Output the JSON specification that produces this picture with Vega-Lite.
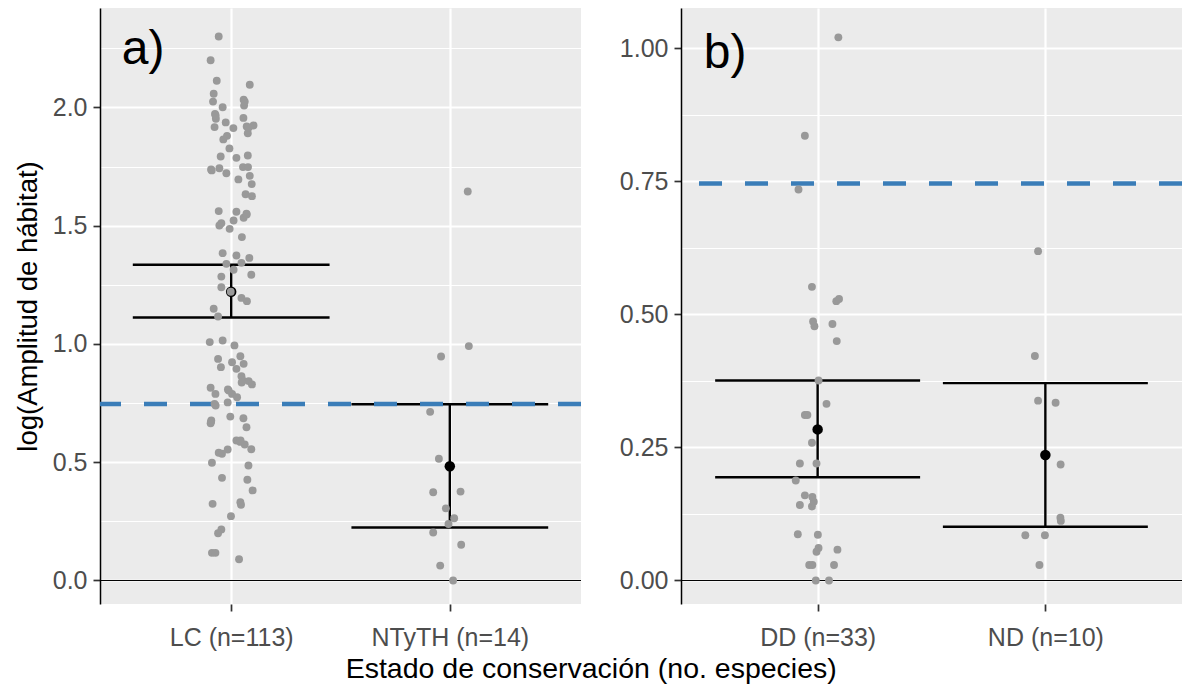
{
  "$schema": "https://vega.github.io/schema/vega-lite/v6.json",
  "background": "white",
  "padding": {"left": 14, "top": 8, "right": 0, "bottom": 0},
  "spacing": 35,
  "config": {
    "font": "Liberation Sans",
    "view": {"fill": "#EBEBEB", "stroke": null},
    "axis": {
      "labelFont": "Liberation Sans", "titleFont": "Liberation Sans",
      "labelFontSize": 25, "labelColor": "#4D4D4D",
      "titleFontSize": 27.5, "titleFontWeight": "normal", "titleColor": "black",
      "tickColor": "#333333", "tickSize": 7, "tickWidth": 1.7,
      "gridColor": "white", "labelOverlap": false, "labelFlush": false
    },
    "title": {"font": "Liberation Sans", "fontSize": 28.5, "fontWeight": "normal", "color": "black"}
  },
  "title": {"text": "Estado de conservación (no. especies)", "orient": "bottom", "anchor": "middle", "frame": "bounds", "offset": 5, "dx": -8},
  "datasets": {
    "ptsA": [
      {"grupo":"LC","pos":0.943,"valor":2.300},{"grupo":"LC","pos":0.906,"valor":2.200},{"grupo":"LC","pos":0.934,"valor":2.113},{"grupo":"LC","pos":1.085,"valor":2.096},
      {"grupo":"LC","pos":0.920,"valor":2.058},{"grupo":"LC","pos":0.917,"valor":2.025},{"grupo":"LC","pos":0.961,"valor":2.001},{"grupo":"LC","pos":1.057,"valor":2.033},
      {"grupo":"LC","pos":1.059,"valor":2.008},{"grupo":"LC","pos":0.926,"valor":1.973},{"grupo":"LC","pos":0.930,"valor":1.952},{"grupo":"LC","pos":1.056,"valor":1.956},
      {"grupo":"LC","pos":0.975,"valor":1.937},{"grupo":"LC","pos":0.924,"valor":1.917},{"grupo":"LC","pos":1.010,"valor":1.913},{"grupo":"LC","pos":1.071,"valor":1.920},
      {"grupo":"LC","pos":1.102,"valor":1.924},{"grupo":"LC","pos":1.076,"valor":1.891},{"grupo":"LC","pos":0.981,"valor":1.880},{"grupo":"LC","pos":0.964,"valor":1.865},
      {"grupo":"LC","pos":0.992,"valor":1.827},{"grupo":"LC","pos":0.952,"valor":1.793},{"grupo":"LC","pos":1.024,"valor":1.787},{"grupo":"LC","pos":1.076,"valor":1.797},
      {"grupo":"LC","pos":0.908,"valor":1.738},{"grupo":"LC","pos":0.946,"valor":1.743},{"grupo":"LC","pos":0.978,"valor":1.722},{"grupo":"LC","pos":1.054,"valor":1.748},
      {"grupo":"LC","pos":1.077,"valor":1.748},{"grupo":"LC","pos":1.085,"valor":1.711},{"grupo":"LC","pos":1.033,"valor":1.696},{"grupo":"LC","pos":1.094,"valor":1.676},
      {"grupo":"LC","pos":1.066,"valor":1.633},{"grupo":"LC","pos":1.095,"valor":1.625},{"grupo":"LC","pos":0.943,"valor":1.562},{"grupo":"LC","pos":1.024,"valor":1.559},
      {"grupo":"LC","pos":1.070,"valor":1.551},{"grupo":"LC","pos":1.057,"valor":1.534},{"grupo":"LC","pos":0.955,"valor":1.511},{"grupo":"LC","pos":1.011,"valor":1.522},
      {"grupo":"LC","pos":0.946,"valor":1.501},{"grupo":"LC","pos":0.993,"valor":1.487},{"grupo":"LC","pos":1.049,"valor":1.452},{"grupo":"LC","pos":0.961,"valor":1.384},
      {"grupo":"LC","pos":1.024,"valor":1.374},{"grupo":"LC","pos":1.083,"valor":1.364},{"grupo":"LC","pos":0.978,"valor":1.339},{"grupo":"LC","pos":1.047,"valor":1.343},
      {"grupo":"LC","pos":1.011,"valor":1.314},{"grupo":"LC","pos":1.092,"valor":1.293},{"grupo":"LC","pos":0.955,"valor":1.285},{"grupo":"LC","pos":0.955,"valor":1.240},
      {"grupo":"LC","pos":0.998,"valor":1.221},{"grupo":"LC","pos":1.047,"valor":1.195},{"grupo":"LC","pos":1.072,"valor":1.181},{"grupo":"LC","pos":0.920,"valor":1.149},
      {"grupo":"LC","pos":0.940,"valor":1.116},{"grupo":"LC","pos":0.902,"valor":1.008},{"grupo":"LC","pos":0.961,"valor":1.015},{"grupo":"LC","pos":1.015,"valor":0.994},
      {"grupo":"LC","pos":1.042,"valor":0.948},{"grupo":"LC","pos":0.940,"valor":0.937},{"grupo":"LC","pos":1.004,"valor":0.923},{"grupo":"LC","pos":1.057,"valor":0.916},
      {"grupo":"LC","pos":0.953,"valor":0.902},{"grupo":"LC","pos":1.024,"valor":0.895},{"grupo":"LC","pos":1.047,"valor":0.864},{"grupo":"LC","pos":1.053,"valor":0.846},
      {"grupo":"LC","pos":1.080,"valor":0.843},{"grupo":"LC","pos":1.095,"valor":0.829},{"grupo":"LC","pos":0.906,"valor":0.815},{"grupo":"LC","pos":0.985,"valor":0.808},
      {"grupo":"LC","pos":0.928,"valor":0.789},{"grupo":"LC","pos":1.004,"valor":0.789},{"grupo":"LC","pos":1.027,"valor":0.775},{"grupo":"LC","pos":0.924,"valor":0.747},
      {"grupo":"LC","pos":0.984,"valor":0.753},{"grupo":"LC","pos":0.909,"valor":0.677},{"grupo":"LC","pos":0.906,"valor":0.665},{"grupo":"LC","pos":0.996,"valor":0.693},
      {"grupo":"LC","pos":1.056,"valor":0.686},{"grupo":"LC","pos":1.070,"valor":0.648},{"grupo":"LC","pos":1.024,"valor":0.592},{"grupo":"LC","pos":1.042,"valor":0.586},
      {"grupo":"LC","pos":1.062,"valor":0.575},{"grupo":"LC","pos":1.092,"valor":0.555},{"grupo":"LC","pos":0.984,"valor":0.554},{"grupo":"LC","pos":0.943,"valor":0.540},
      {"grupo":"LC","pos":0.958,"valor":0.536},{"grupo":"LC","pos":0.912,"valor":0.498},{"grupo":"LC","pos":1.079,"valor":0.486},{"grupo":"LC","pos":0.958,"valor":0.434},
      {"grupo":"LC","pos":1.074,"valor":0.426},{"grupo":"LC","pos":1.098,"valor":0.381},{"grupo":"LC","pos":0.915,"valor":0.324},{"grupo":"LC","pos":1.042,"valor":0.331},
      {"grupo":"LC","pos":1.045,"valor":0.320},{"grupo":"LC","pos":0.999,"valor":0.272},{"grupo":"LC","pos":0.955,"valor":0.216},{"grupo":"LC","pos":0.940,"valor":0.200},
      {"grupo":"LC","pos":0.912,"valor":0.117},{"grupo":"LC","pos":0.928,"valor":0.117},{"grupo":"LC","pos":1.036,"valor":0.090},{"grupo":"LC","pos":1.071,"valor":1.548},
      {"grupo":"LC","pos":0.929,"valor":1.966},{"grupo":"LC","pos":1.062,"valor":2.025},{"grupo":"LC","pos":1.080,"valor":1.915},{"grupo":"LC","pos":0.911,"valor":1.734},
      {"grupo":"LC","pos":1.048,"valor":0.837},{"grupo":"LC","pos":0.929,"valor":0.740},{"grupo":"LC","pos":1.043,"valor":0.592},{"grupo":"LC","pos":0.908,"valor":0.672},
      {"grupo":"LC","pos":0.989,"valor":0.803},
      {"grupo":"NTyTH","pos":2.082,"valor":1.645},{"grupo":"NTyTH","pos":2.087,"valor":0.991},{"grupo":"NTyTH","pos":1.960,"valor":0.947},{"grupo":"NTyTH","pos":1.910,"valor":0.713},
      {"grupo":"NTyTH","pos":1.950,"valor":0.515},{"grupo":"NTyTH","pos":1.924,"valor":0.373},{"grupo":"NTyTH","pos":2.049,"valor":0.376},{"grupo":"NTyTH","pos":1.982,"valor":0.305},
      {"grupo":"NTyTH","pos":2.020,"valor":0.263},{"grupo":"NTyTH","pos":1.994,"valor":0.239},{"grupo":"NTyTH","pos":1.924,"valor":0.203},{"grupo":"NTyTH","pos":2.052,"valor":0.151},
      {"grupo":"NTyTH","pos":1.956,"valor":0.063},{"grupo":"NTyTH","pos":2.015,"valor":0.0}
    ],
    "ptsB": [
      {"grupo":"DD","pos":1.091,"valor":1.021},{"grupo":"DD","pos":0.944,"valor":0.836},{"grupo":"DD","pos":0.916,"valor":0.735},{"grupo":"DD","pos":0.975,"valor":0.552},
      {"grupo":"DD","pos":1.082,"valor":0.525},{"grupo":"DD","pos":1.094,"valor":0.529},{"grupo":"DD","pos":0.980,"valor":0.487},{"grupo":"DD","pos":0.986,"valor":0.478},
      {"grupo":"DD","pos":1.065,"valor":0.482},{"grupo":"DD","pos":1.084,"valor":0.450},{"grupo":"DD","pos":1.004,"valor":0.376},{"grupo":"DD","pos":1.039,"valor":0.332},
      {"grupo":"DD","pos":0.944,"valor":0.311},{"grupo":"DD","pos":0.955,"valor":0.311},{"grupo":"DD","pos":0.975,"valor":0.259},{"grupo":"DD","pos":0.922,"valor":0.220},
      {"grupo":"DD","pos":0.995,"valor":0.220},{"grupo":"DD","pos":0.904,"valor":0.188},{"grupo":"DD","pos":0.944,"valor":0.160},{"grupo":"DD","pos":0.922,"valor":0.142},
      {"grupo":"DD","pos":0.975,"valor":0.139},{"grupo":"DD","pos":0.983,"valor":0.148},{"grupo":"DD","pos":0.913,"valor":0.087},{"grupo":"DD","pos":1.001,"valor":0.086},
      {"grupo":"DD","pos":1.004,"valor":0.061},{"grupo":"DD","pos":1.087,"valor":0.058},{"grupo":"DD","pos":0.995,"valor":0.054},{"grupo":"DD","pos":0.963,"valor":0.029},
      {"grupo":"DD","pos":0.977,"valor":0.029},{"grupo":"DD","pos":1.072,"valor":0.029},{"grupo":"DD","pos":0.992,"valor":0.0},{"grupo":"DD","pos":1.050,"valor":0.0},
      {"grupo":"DD","pos":0.977,"valor":0.157},
      {"grupo":"ND","pos":1.968,"valor":0.619},{"grupo":"ND","pos":1.954,"valor":0.422},{"grupo":"ND","pos":1.968,"valor":0.338},{"grupo":"ND","pos":2.045,"valor":0.334},
      {"grupo":"ND","pos":2.067,"valor":0.218},{"grupo":"ND","pos":2.066,"valor":0.118},{"grupo":"ND","pos":2.068,"valor":0.112},{"grupo":"ND","pos":1.912,"valor":0.085},
      {"grupo":"ND","pos":1.998,"valor":0.085},{"grupo":"ND","pos":1.974,"valor":0.029}
    ],
    "sumA": [
      {"grupo":"LC","pos":1,"media":1.221,"lo":1.112,"hi":1.335,"xmin":0.55,"xmax":1.45},
      {"grupo":"NTyTH","pos":2,"media":0.483,"lo":0.224,"hi":0.745,"xmin":1.55,"xmax":2.45}
    ],
    "sumB": [
      {"grupo":"DD","pos":1,"media":0.284,"lo":0.194,"hi":0.376,"xmin":0.55,"xmax":1.45},
      {"grupo":"ND","pos":2,"media":0.236,"lo":0.101,"hi":0.371,"xmin":1.55,"xmax":2.45}
    ],
    "refs": [{"umbral": 0.746, "cero": 0}]
  },
  "hconcat": [
    {
      "width": 481,
      "height": 596,
      "layer": [
        {
          "data": {"name": "ptsA"},
          "mark": {"type": "point", "opacity": 0},
          "encoding": {
            "x": {"field": "pos", "type": "quantitative", "title": null, "scale": {"domain": [0.4, 2.6], "nice": false, "zero": false},
              "axis": {"values": [1, 2], "labelExpr": "datum.value === 1 ? 'LC (n=113)' : 'NTyTH (n=14)'",
                "domain": false, "grid": true, "gridWidth": 2.2, "labelPadding": 14}},
            "y": {"field": "valor", "type": "quantitative", "title": "log(Amplitud de hábitat)", "scale": {"domain": [-0.0994, 2.4207], "nice": false, "zero": false},
              "axis": {"values": [0, 0.25, 0.5, 0.75, 1, 1.25, 1.5, 1.75, 2, 2.25],
                "labelExpr": "datum.value % 0.5 === 0 ? format(datum.value, '.1f') : ''",
                "grid": true,
                "gridWidth": {"condition": {"test": "datum.value % 0.5 === 0", "value": 2.2}, "value": 1.1},
                "tickOpacity": {"condition": {"test": "datum.value % 0.5 === 0", "value": 1}, "value": 0},
                "domain": true, "domainColor": "black", "domainWidth": 1.5,
                "labelPadding": 6, "titlePadding": 10}}
          }
        },
        {
          "data": {"name": "refs"},
          "mark": {"type": "rule", "color": "black", "strokeWidth": 1},
          "encoding": {"y": {"field": "cero", "type": "quantitative", "title": "log(Amplitud de hábitat)"}}
        },
        {
          "data": {"name": "sumA"},
          "mark": {"type": "rule", "color": "black", "strokeWidth": 2.4},
          "encoding": {
            "x": {"field": "pos", "type": "quantitative", "title": null},
            "y": {"field": "lo", "type": "quantitative", "title": "log(Amplitud de hábitat)"},
            "y2": {"field": "hi"}
          }
        },
        {
          "data": {"name": "sumA"},
          "mark": {"type": "rule", "color": "black", "strokeWidth": 2.4},
          "encoding": {
            "x": {"field": "xmin", "type": "quantitative", "title": null},
            "x2": {"field": "xmax"},
            "y": {"field": "lo", "type": "quantitative", "title": "log(Amplitud de hábitat)"}
          }
        },
        {
          "data": {"name": "sumA"},
          "mark": {"type": "rule", "color": "black", "strokeWidth": 2.4},
          "encoding": {
            "x": {"field": "xmin", "type": "quantitative", "title": null},
            "x2": {"field": "xmax"},
            "y": {"field": "hi", "type": "quantitative", "title": "log(Amplitud de hábitat)"}
          }
        },
        {
          "data": {"name": "sumA"},
          "mark": {"type": "point", "filled": true, "color": "black", "size": 110, "opacity": 1},
          "encoding": {
            "x": {"field": "pos", "type": "quantitative", "title": null},
            "y": {"field": "media", "type": "quantitative", "title": "log(Amplitud de hábitat)"}
          }
        },
        {
          "data": {"name": "refs"},
          "mark": {"type": "rule", "color": "#3A7DB8", "strokeWidth": 4.5, "strokeDash": [23, 23]},
          "encoding": {"y": {"field": "umbral", "type": "quantitative", "title": "log(Amplitud de hábitat)"}}
        },
        {
          "data": {"name": "ptsA"},
          "mark": {"type": "point", "filled": true, "color": "#999999", "size": 62, "opacity": 1},
          "encoding": {
            "x": {"field": "pos", "type": "quantitative", "title": null},
            "y": {"field": "valor", "type": "quantitative", "title": "log(Amplitud de hábitat)"}
          }
        },
        {
          "data": {"values": [{"panel": "a)"}]},
          "mark": {"type": "text", "fontSize": 48, "color": "black", "align": "left", "baseline": "alphabetic", "font": "Liberation Sans"},
          "encoding": {"text": {"field": "panel"}, "x": {"datum": 0.5}, "y": {"datum": 2.185}}
        }
      ]
    },
    {
      "width": 501,
      "height": 596,
      "layer": [
        {
          "data": {"name": "ptsB"},
          "mark": {"type": "point", "opacity": 0},
          "encoding": {
            "x": {"field": "pos", "type": "quantitative", "title": null, "scale": {"domain": [0.4, 2.6], "nice": false, "zero": false},
              "axis": {"values": [1, 2], "labelExpr": "datum.value === 1 ? 'DD (n=33)' : 'ND (n=10)'",
                "domain": false, "grid": true, "gridWidth": 2.2, "labelPadding": 14}},
            "y": {"field": "valor", "type": "quantitative", "title": null, "scale": {"domain": [-0.0442, 1.0761], "nice": false, "zero": false},
              "axis": {"values": [0, 0.125, 0.25, 0.375, 0.5, 0.625, 0.75, 0.875, 1],
                "labelExpr": "datum.value % 0.25 === 0 ? format(datum.value, '.2f') : ''",
                "grid": true,
                "gridWidth": {"condition": {"test": "datum.value % 0.25 === 0", "value": 2.2}, "value": 1.1},
                "tickOpacity": {"condition": {"test": "datum.value % 0.25 === 0", "value": 1}, "value": 0},
                "domain": true, "domainColor": "black", "domainWidth": 1.5,
                "labelPadding": 6}}
          }
        },
        {
          "data": {"name": "refs"},
          "mark": {"type": "rule", "color": "black", "strokeWidth": 1},
          "encoding": {"y": {"field": "cero", "type": "quantitative", "title": null}}
        },
        {
          "data": {"name": "sumB"},
          "mark": {"type": "rule", "color": "black", "strokeWidth": 2.4},
          "encoding": {
            "x": {"field": "pos", "type": "quantitative", "title": null},
            "y": {"field": "lo", "type": "quantitative", "title": null},
            "y2": {"field": "hi"}
          }
        },
        {
          "data": {"name": "sumB"},
          "mark": {"type": "rule", "color": "black", "strokeWidth": 2.4},
          "encoding": {
            "x": {"field": "xmin", "type": "quantitative", "title": null},
            "x2": {"field": "xmax"},
            "y": {"field": "lo", "type": "quantitative", "title": null}
          }
        },
        {
          "data": {"name": "sumB"},
          "mark": {"type": "rule", "color": "black", "strokeWidth": 2.4},
          "encoding": {
            "x": {"field": "xmin", "type": "quantitative", "title": null},
            "x2": {"field": "xmax"},
            "y": {"field": "hi", "type": "quantitative", "title": null}
          }
        },
        {
          "data": {"name": "sumB"},
          "mark": {"type": "point", "filled": true, "color": "black", "size": 110, "opacity": 1},
          "encoding": {
            "x": {"field": "pos", "type": "quantitative", "title": null},
            "y": {"field": "media", "type": "quantitative", "title": null}
          }
        },
        {
          "data": {"name": "refs"},
          "mark": {"type": "rule", "color": "#3A7DB8", "strokeWidth": 4.5, "strokeDash": [23, 23]},
          "encoding": {"y": {"field": "umbral", "type": "quantitative", "title": null}}
        },
        {
          "data": {"name": "ptsB"},
          "mark": {"type": "point", "filled": true, "color": "#999999", "size": 62, "opacity": 1},
          "encoding": {
            "x": {"field": "pos", "type": "quantitative", "title": null},
            "y": {"field": "valor", "type": "quantitative", "title": null}
          }
        },
        {
          "data": {"values": [{"panel": "b)"}]},
          "mark": {"type": "text", "fontSize": 48, "color": "black", "align": "left", "baseline": "alphabetic", "font": "Liberation Sans"},
          "encoding": {"text": {"field": "panel"}, "x": {"datum": 0.5}, "y": {"datum": 0.9636}}
        }
      ]
    }
  ]
}
